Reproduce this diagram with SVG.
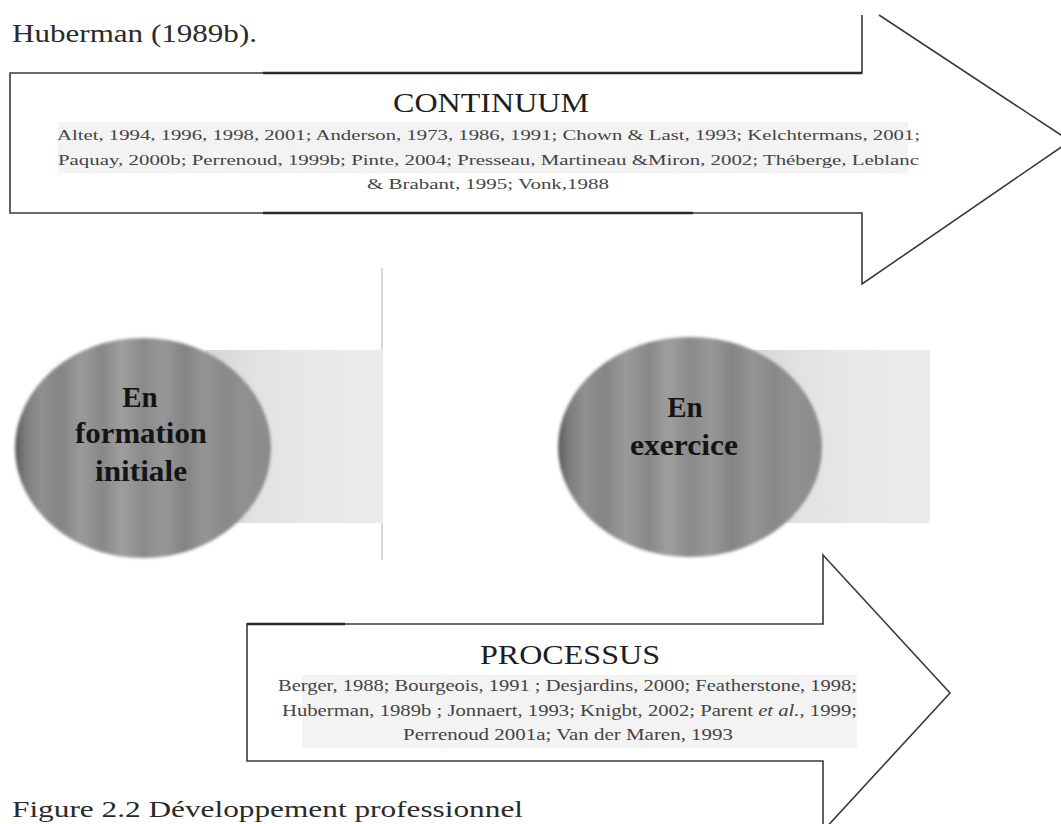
<svg xmlns="http://www.w3.org/2000/svg" width="1061" height="824" viewBox="0 0 1061 824">
  <style>
    .serif { font-family: "Liberation Serif", "Times New Roman", serif; }
    .title { font-family: "Liberation Serif", serif; font-size: 28px; fill: #1e1e1e; text-anchor: middle; }
    .cite { font-family: "Liberation Serif", serif; font-size: 15px; fill: #444444; }
    .cite2 { font-family: "Liberation Serif", serif; font-size: 16px; fill: #444444; }
    .node-label { font-family: "Liberation Serif", serif; font-size: 29px; font-weight: bold; fill: #141414; text-anchor: middle; }
    .outline { fill: none; stroke: #3a3a3a; stroke-width: 1.6; stroke-linejoin: miter; }
    .thick { stroke: #2a2a2a; stroke-width: 2.6; }
    .band { fill: #f3f3f3; }
  </style>
  <defs>
    <linearGradient id="mottle" x1="0" y1="0" x2="1" y2="0">
      <stop offset="0" stop-color="#5a5a5a"/>
      <stop offset="0.04" stop-color="#7c7c7c"/>
      <stop offset="0.1" stop-color="#8f8f8f"/>
      <stop offset="0.18" stop-color="#858585"/>
      <stop offset="0.26" stop-color="#9a9a9a"/>
      <stop offset="0.34" stop-color="#888888"/>
      <stop offset="0.42" stop-color="#9e9e9e"/>
      <stop offset="0.5" stop-color="#8a8a8a"/>
      <stop offset="0.58" stop-color="#979797"/>
      <stop offset="0.66" stop-color="#848484"/>
      <stop offset="0.74" stop-color="#949494"/>
      <stop offset="0.82" stop-color="#898989"/>
      <stop offset="0.9" stop-color="#919191"/>
      <stop offset="1" stop-color="#8a8a8a"/>
    </linearGradient>
    <linearGradient id="shade" x1="0" y1="0" x2="1" y2="0">
      <stop offset="0" stop-color="#d6d6d6"/>
      <stop offset="0.3" stop-color="#e2e2e2"/>
      <stop offset="0.6" stop-color="#e8e8e8"/>
      <stop offset="1" stop-color="#ebebeb"/>
    </linearGradient>
    <filter id="soft" x="-5%" y="-5%" width="110%" height="110%">
      <feGaussianBlur stdDeviation="1.4"/>
    </filter>
  </defs>

  <rect width="1061" height="824" fill="#ffffff"/>

  <g id="header-text">
    <text class="serif" x="12" y="42" font-size="25" fill="#2a2a2a" textLength="245" lengthAdjust="spacingAndGlyphs">Huberman (1989b).</text>
  </g>

  <g id="arrow-continuum">
    <rect class="band" x="58" y="122" width="850" height="51"/>
    <path class="outline" d="M862,15 V73 H10 V213 H862 V284 L1070,141 L879,15"/>
    <line class="thick" x1="263" y1="73" x2="862" y2="73"/>
    <line class="thick" x1="263" y1="213" x2="693" y2="213"/>
    <text class="title" x="491" y="112" textLength="196" lengthAdjust="spacingAndGlyphs">CONTINUUM</text>
    <text class="cite" x="57" y="140" textLength="863" lengthAdjust="spacingAndGlyphs">Altet, 1994, 1996, 1998, 2001; Anderson, 1973, 1986, 1991; Chown &amp; Last, 1993; Kelchtermans, 2001;</text>
    <text class="cite" x="58" y="165" textLength="861" lengthAdjust="spacingAndGlyphs">Paquay,  2000b; Perrenoud, 1999b; Pinte, 2004; Presseau, Martineau &amp;Miron, 2002; Théberge, Leblanc</text>
    <text class="cite" x="367" y="189" textLength="242" lengthAdjust="spacingAndGlyphs">&amp; Brabant, 1995; Vonk,1988</text>
  </g>

  <line x1="382" y1="268" x2="382" y2="560" stroke="#d9d9d9" stroke-width="2"/>

  <g id="node-formation">
    <rect x="205" y="350" width="178" height="173" fill="url(#shade)"/>
    <ellipse cx="143" cy="448" rx="128" ry="110" fill="url(#mottle)" filter="url(#soft)"/>
    <text class="node-label" x="140" y="407">En</text>
    <text class="node-label" x="141" y="443" textLength="132" lengthAdjust="spacingAndGlyphs">formation</text>
    <text class="node-label" x="141" y="481" textLength="92" lengthAdjust="spacingAndGlyphs">initiale</text>
  </g>

  <g id="node-exercice">
    <rect x="750" y="350" width="180" height="173" fill="url(#shade)"/>
    <rect x="775" y="425" width="40" height="50" fill="#b5b5b5" opacity="0.6" filter="url(#soft)"/>
    <ellipse cx="690" cy="447" rx="132" ry="110" fill="url(#mottle)" filter="url(#soft)"/>
    <text class="node-label" x="685" y="417">En</text>
    <text class="node-label" x="684" y="455" textLength="108" lengthAdjust="spacingAndGlyphs">exercice</text>
  </g>

  <g id="arrow-processus">
    <rect class="band" x="302" y="675" width="555" height="73"/>
    <path class="outline" d="M823,555 V624 H247 V761 H823 V831 L950,693 Z"/>
    <line class="thick" x1="247" y1="624" x2="345" y2="624"/>
    <text class="title" x="570" y="664" font-size="30" textLength="180" lengthAdjust="spacingAndGlyphs">PROCESSUS</text>
    <text class="cite2" x="278" y="691" textLength="579" lengthAdjust="spacingAndGlyphs">Berger, 1988; Bourgeois,  1991 ; Desjardins, 2000; Featherstone, 1998;</text>
    <text class="cite2" x="282" y="716" textLength="575" lengthAdjust="spacingAndGlyphs">Huberman, 1989b ; Jonnaert, 1993; Knigbt, 2002; Parent <tspan font-style="italic">et al.</tspan>, 1999;</text>
    <text class="cite2" x="403" y="740" textLength="330" lengthAdjust="spacingAndGlyphs">Perrenoud 2001a; Van der Maren, 1993</text>
  </g>

  <g id="caption">
    <text class="serif" x="12" y="817" font-size="24" fill="#2a2a2a" textLength="511" lengthAdjust="spacingAndGlyphs">Figure 2.2 Développement professionnel</text>
  </g>

  <g id="connectors"/>
</svg>
